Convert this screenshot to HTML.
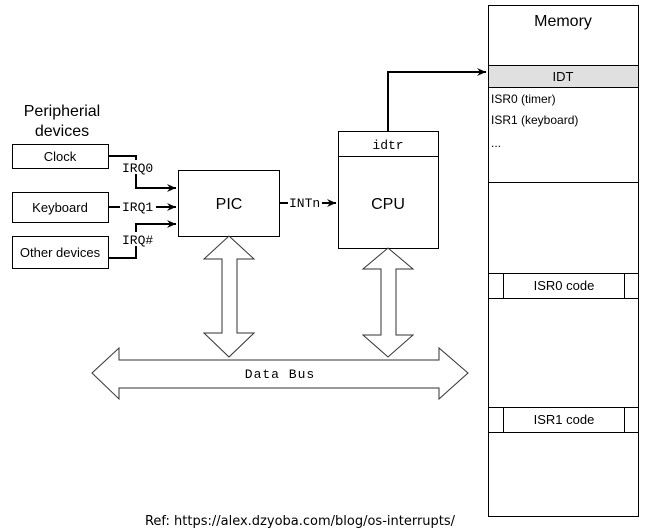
<!DOCTYPE html>
<html><head><meta charset="utf-8"><style>body{margin:0;background:#fff}svg{display:block}</style></head><body>
<svg width="648" height="530" viewBox="0 0 648 530" xmlns="http://www.w3.org/2000/svg">
<defs><marker id="a" markerWidth="10" markerHeight="10" refX="9" refY="5" orient="auto" markerUnits="userSpaceOnUse"><path d="M0,1 L9,5 L0,9 L3,5 Z" fill="#000"/></marker></defs>
<g font-family="Liberation Sans, sans-serif" fill="#000">
<text x="62" y="116" font-size="16" text-anchor="middle">Peripherial</text>
<text x="62" y="136" font-size="16" text-anchor="middle">devices</text>
</g>
<g fill="#fff" stroke="#000" stroke-width="1">
<rect x="12.5" y="144.5" width="96" height="24"/>
<rect x="12.5" y="192.5" width="96" height="30"/>
<rect x="12.5" y="236.5" width="96" height="32"/>
<rect x="178.5" y="170.5" width="101" height="66"/>
<rect x="338.5" y="131.5" width="100" height="117"/>
<line x1="338" y1="156.5" x2="438" y2="156.5"/>
<rect x="488.5" y="5.5" width="150" height="511"/>
<rect x="488.5" y="65.5" width="150" height="22" fill="#e0e0e0"/>
<line x1="488" y1="182.5" x2="638" y2="182.5"/>
<rect x="488.5" y="273.5" width="150" height="25"/>
<line x1="503.5" y1="273" x2="503.5" y2="298"/><line x1="624.5" y1="273" x2="624.5" y2="298"/>
<rect x="488.5" y="407.5" width="150" height="25"/>
<line x1="503.5" y1="407" x2="503.5" y2="432"/><line x1="624.5" y1="407" x2="624.5" y2="432"/>
<polygon points="229,236 254,259 237,259 237,333 254,333 229,357 204,333 222,333 222,259 204,259" stroke="#333"/>
<polygon points="388,248 413,269 396,269 396,335 413,335 388,357 363,335 381,335 381,269 363,269" stroke="#333"/>
<polygon points="92,373 119,348 119,360 439,360 439,348 468,373 439,399 439,388 119,388 119,399" stroke="#333"/>
</g>
<g fill="none" stroke="#000" stroke-width="2">
<polyline points="108,156 136,156 136,188 176,188" marker-end="url(#a)"/>
<line x1="108" y1="207" x2="176" y2="207" marker-end="url(#a)"/>
<polyline points="108,258 136,258 136,224 176,224" marker-end="url(#a)"/>
<line x1="280" y1="203" x2="336" y2="203" marker-end="url(#a)"/>
<polyline points="388,131 388,72 486,72" marker-end="url(#a)"/>
</g>
<g font-family="Liberation Mono, monospace" font-size="13" fill="#000">
<rect x="120" y="160" width="36" height="14" fill="#fff"/><text x="122" y="172">IRQ0</text>
<rect x="120" y="200" width="36" height="14" fill="#fff"/><text x="122" y="211">IRQ1</text>
<rect x="120" y="232" width="36" height="14" fill="#fff"/><text x="122" y="244">IRQ#</text>
<rect x="288" y="196" width="34" height="14" fill="#fff"/><text x="289" y="207">INTn</text>
<text x="388" y="149" text-anchor="middle">idtr</text>
<text x="280" y="378" text-anchor="middle" letter-spacing="1">Data Bus</text>
</g>
<g font-family="Liberation Sans, sans-serif" fill="#000">
<text x="60" y="161" font-size="13" text-anchor="middle">Clock</text>
<text x="60" y="212" font-size="13" text-anchor="middle">Keyboard</text>
<text x="60" y="257" font-size="13" text-anchor="middle">Other devices</text>
<text x="229" y="209" font-size="16" text-anchor="middle">PIC</text>
<text x="388" y="209" font-size="16" text-anchor="middle">CPU</text>
<text x="563" y="26" font-size="16" text-anchor="middle">Memory</text>
<text x="563" y="81" font-size="13" text-anchor="middle">IDT</text>
<text x="491" y="103" font-size="12">ISR0 (timer)</text>
<text x="491" y="124" font-size="12">ISR1 (keyboard)</text>
<text x="491" y="147" font-size="12">...</text>
<text x="564" y="290" font-size="13" text-anchor="middle">ISR0 code</text>
<text x="564" y="424" font-size="13" text-anchor="middle">ISR1 code</text>
</g>
<text x="300" y="525" font-family="DejaVu Sans, sans-serif" font-size="13" text-anchor="middle">Ref: https://alex.dzyoba.com/blog/os-interrupts/</text>
</svg>
</body></html>
